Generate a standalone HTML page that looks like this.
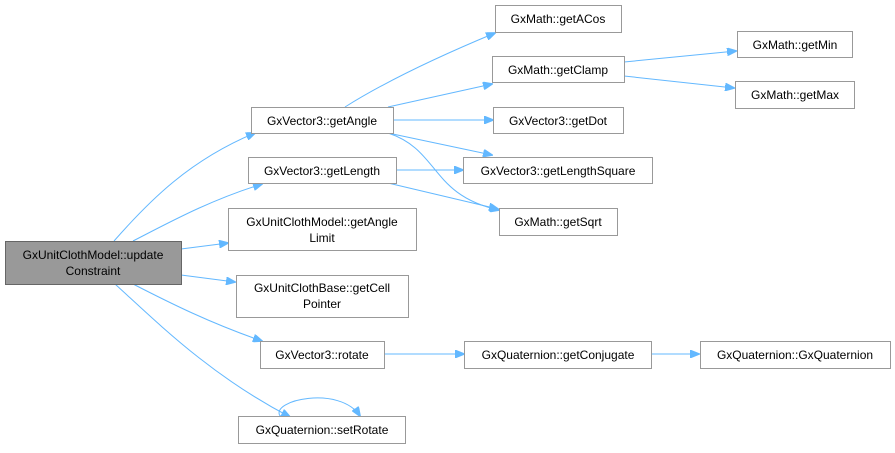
<!DOCTYPE html>
<html><head><meta charset="utf-8"><style>
body{margin:0;background:#fff}
text{font-family:"Liberation Sans",Arial,sans-serif;font-size:12px;fill:#000;text-anchor:middle}
.n{fill:#fff;stroke:#999;stroke-width:1}
.e{fill:none;stroke:#63b8ff;stroke-width:1}
.a{fill:#63b8ff;stroke:#63b8ff}
</style></head><body>
<svg width="895" height="448" viewBox="0 0 895 448" xmlns="http://www.w3.org/2000/svg">
<defs><marker id="m" markerWidth="10" markerHeight="8" refX="9" refY="4" orient="auto" markerUnits="userSpaceOnUse"><path d="M0,0 L10,4 L0,8 Z" class="a"/></marker></defs>
<!-- edges -->
<g class="e" marker-end="url(#m)">
<path d="M114,241 C150,200 190,160 255,133"/>
<path d="M133,241 C170,222 210,200 262,184"/>
<path d="M181,249 L228,243"/>
<path d="M181,275 L235,282"/>
<path d="M133,284 C170,303 210,323 262,341"/>
<path d="M115,284 C160,325 210,375 290,417"/>
<path d="M345,107 C380,85 430,60 495,33"/>
<path d="M388,107 L492,84"/>
<path d="M393,120 L493,120"/>
<path d="M388,133 L492,155"/>
<path d="M388,133 C440,150 430,195 499,210"/>
<path d="M396,170 L463,170"/>
<path d="M388,183 L498,209"/>
<path d="M624,62 L736,51"/>
<path d="M624,76 L734,88"/>
<path d="M384,354 L464,354"/>
<path d="M651,354 L699,354"/>
<path d="M280,416 C270,400 340,385 360,416"/>
</g>
<!-- nodes -->
<rect x="5.5" y="241.5" width="176" height="43" fill="#999" stroke="#666"/>
<text x="93" y="259">GxUnitClothModel::update</text><text x="93" y="275">Constraint</text>
<rect class="n" x="251.5" y="107.5" width="142" height="26"/><text x="322" y="125">GxVector3::getAngle</text>
<rect class="n" x="248.5" y="157.5" width="148" height="26"/><text x="322" y="175">GxVector3::getLength</text>
<rect class="n" x="228.5" y="208.5" width="188" height="42"/><text x="322" y="226">GxUnitClothModel::getAngle</text><text x="322" y="242">Limit</text>
<rect class="n" x="236.5" y="275.5" width="172" height="42"/><text x="322" y="292">GxUnitClothBase::getCell</text><text x="322" y="308">Pointer</text>
<rect class="n" x="260.5" y="341.5" width="124" height="27"/><text x="322" y="359">GxVector3::rotate</text>
<rect class="n" x="238.5" y="416.5" width="167" height="27"/><text x="322" y="434">GxQuaternion::setRotate</text>
<rect class="n" x="495.5" y="5.5" width="126" height="27"/><text x="558" y="23">GxMath::getACos</text>
<rect class="n" x="492.5" y="56.5" width="132" height="26"/><text x="558" y="74">GxMath::getClamp</text>
<rect class="n" x="493.5" y="107.5" width="130" height="26"/><text x="558" y="125">GxVector3::getDot</text>
<rect class="n" x="463.5" y="157.5" width="189" height="26"/><text x="558" y="175">GxVector3::getLengthSquare</text>
<rect class="n" x="499.5" y="208.5" width="118" height="27"/><text x="558" y="226">GxMath::getSqrt</text>
<rect class="n" x="737.5" y="31.5" width="115" height="26"/><text x="795" y="49">GxMath::getMin</text>
<rect class="n" x="735.5" y="81.5" width="119" height="27"/><text x="795" y="99">GxMath::getMax</text>
<rect class="n" x="464.5" y="341.5" width="187" height="27"/><text x="558" y="359">GxQuaternion::getConjugate</text>
<rect class="n" x="700.5" y="341.5" width="190" height="27"/><text x="795" y="359">GxQuaternion::GxQuaternion</text>
</svg>
</body></html>
